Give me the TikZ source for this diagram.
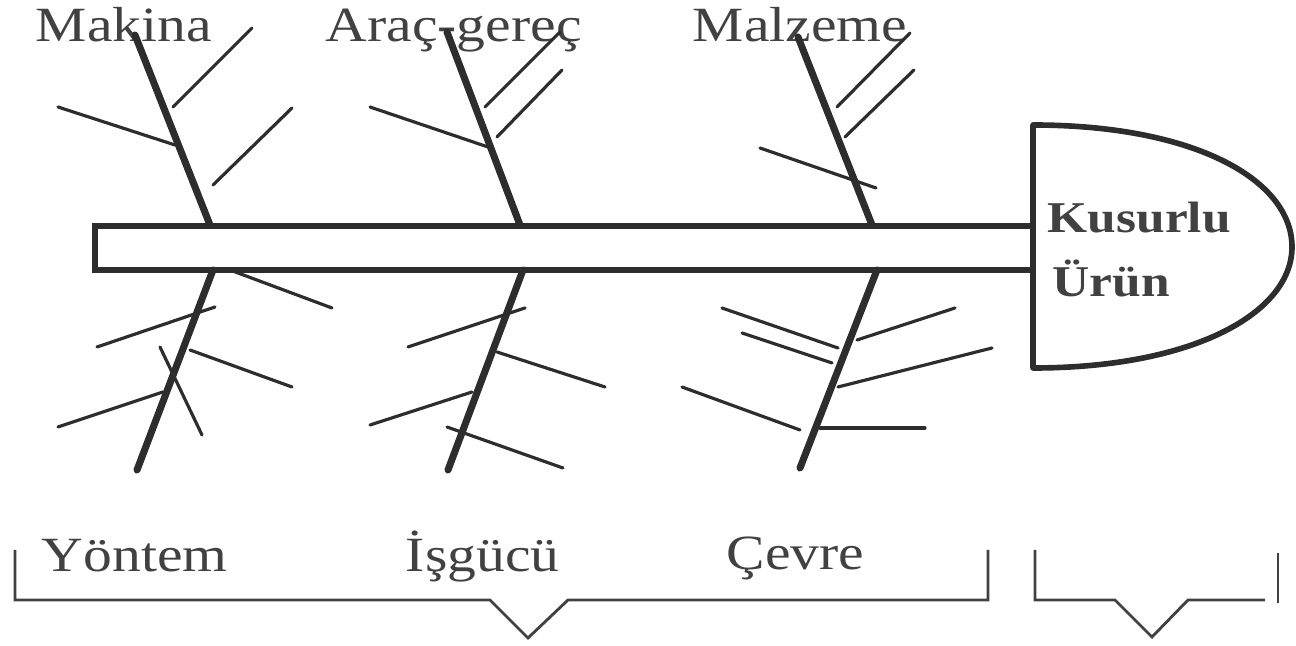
\documentclass[tikz,border=0pt]{standalone}
\usepackage{fontspec}
\setmainfont{Liberation Serif}
\usepackage{xcolor}
\usetikzlibrary{positioning}
\definecolor{inkgray}{RGB}{45,45,45}
\definecolor{textgray}{RGB}{65,65,65}

\begin{document}
\begin{tikzpicture}[x=0.01cm, y=-0.01cm,
    bone/.style={line width=2pt, inkgray, line cap=round},
    rib/.style={line width=0.9pt, inkgray, line cap=round},
    cat/.style={font=\fontsize{14}{16}\selectfont, textgray, xscale=1.17, inner sep=0pt, anchor=base west},
    effect/.style={font=\fontsize{12.5}{14}\selectfont\bfseries, textgray, xscale=1.17, inner sep=0pt, anchor=base west},
    brace/.style={line width=0.8pt, textgray}]
    \useasboundingbox (0,0) rectangle (1296,646);

    % Spine and head
    \draw[line width=1.5pt, inkgray] (95,226) rectangle (1033,270);
    \draw[line width=1.6pt, inkgray, line join=round] (1033,125) .. controls (1195,125) and (1292,180) .. (1292,247)
        .. controls (1292,312) and (1195,368) .. (1033,368) -- cycle;
    \node[effect] (kusurlu) at (1047,233) {Kusurlu};
    \node[effect] (urun) at (1052,297) {Ürün};

    % Upper categories
    \node[cat] (makina) at (35,42) {Makina};
    \node[cat] (arac) at (325,42) {Araç-gereç};
    \node[cat] (malzeme) at (692,42) {Malzeme};

    % Makina bone
    \draw[bone] (135,35) -- (210,225);
    \draw[rib] (173,107) -- (252,28);
    \draw[rib] (58,107) -- (175,145);
    \draw[rib] (213,185) -- (292,108);

    % Arac-gerec bone
    \draw[bone] (447,32) -- (520,225);
    \draw[rib] (485,107) -- (560,32);
    \draw[rib] (497,137) -- (562,70);
    \draw[rib] (370,107) -- (488,147);

    % Malzeme bone
    \draw[bone] (798,37) -- (872,225);
    \draw[rib] (837,107) -- (910,33);
    \draw[rib] (845,137) -- (914,70);
    \draw[rib] (760,148) -- (876,188);

    % Yontem bone
    \draw[bone] (213,270) -- (137,470);
    \draw[rib] (230,270) -- (332,308);
    \draw[rib] (97,347) -- (215,307);
    \draw[rib] (190,350) -- (292,387);
    \draw[rib] (160,347) -- (202,435);
    \draw[rib] (58,427) -- (163,392);

    % Isgucu bone
    \draw[bone] (523,270) -- (448,470);
    \draw[rib] (408,347) -- (525,308);
    \draw[rib] (497,352) -- (605,387);
    \draw[rib] (370,425) -- (472,392);
    \draw[rib] (447,427) -- (563,468);

    % Cevre bone
    \draw[bone] (877,270) -- (800,468);
    \draw[rib] (722,308) -- (838,348);
    \draw[rib] (742,333) -- (832,363);
    \draw[rib] (857,340) -- (955,308);
    \draw[rib] (838,387) -- (992,348);
    \draw[rib] (682,387) -- (800,430);
    \draw[rib] (820,428) -- (925,428);

    % Lower categories
    \node[cat] (yontem) at (41,572) {Yöntem};
    \node[cat] (isgucu) at (405,572) {İşgücü};
    \node[cat] (cevre) at (726,570) {Çevre};

    % Braces
    \draw[brace] (15,550) -- (15,600) -- (490,600) -- (528,638) -- (568,600) -- (988,600) -- (988,550);
    \draw[brace] (1035,550) -- (1035,600) -- (1115,600) -- (1152,637) -- (1188,600) -- (1265,600);
    \draw[brace] (1278,553) -- (1278,603);
\end{tikzpicture}
\end{document}
